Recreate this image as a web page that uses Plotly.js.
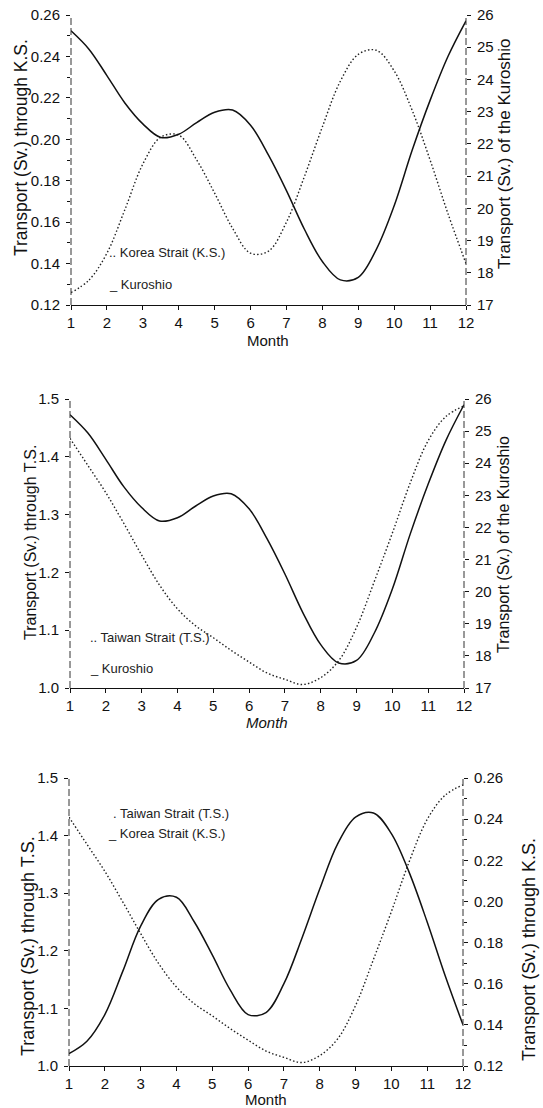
<!DOCTYPE html>
<html>
<head>
<meta charset="utf-8">
<script src="https://cdn.plot.ly/plotly-3.0.1.min.js"></script>
<style>
  html, body { margin: 0; padding: 0; background: #fff; }
  #chart { width: 543px; height: 1108px; }
</style>
</head>
<body>
<div id="chart"></div>
<script>
// ---- data (half-month resolution) ----
const months = [1, 1.5, 2, 2.5, 3, 3.5, 4, 4.5, 5, 5.5, 6, 6.5, 7, 7.5, 8, 8.5, 9, 9.5, 10, 10.5, 11, 11.5, 12];
const kuroshio = [25.51, 24.94, 24.12, 23.27, 22.62, 22.20, 22.30, 22.66, 22.98, 23.05, 22.58, 21.65, 20.55, 19.35, 18.35, 17.78, 17.86, 18.72, 20.08, 21.80, 23.35, 24.72, 25.82];
const koreaStrait = [0.126, 0.132, 0.145, 0.166, 0.188, 0.201, 0.202, 0.190, 0.174, 0.157, 0.145, 0.146, 0.160, 0.182, 0.206, 0.228, 0.241, 0.243, 0.233, 0.214, 0.190, 0.164, 0.140];
const taiwanStrait = [1.432, 1.385, 1.338, 1.285, 1.230, 1.178, 1.137, 1.108, 1.087, 1.065, 1.045, 1.026, 1.015, 1.006, 1.018, 1.047, 1.105, 1.185, 1.268, 1.355, 1.428, 1.470, 1.488];
const monthTicks = [1, 2, 3, 4, 5, 6, 7, 8, 9, 10, 11, 12];
const monthTickLabels = ['1', '2', '3', '4', '5', '6', '7', '8', '9', '10', '11', '12'];

// ---- page geometry helpers ----
const W = 543, H = 1108;
const fx = p => p / W;
const fy = p => 1 - p / H;
const FONT = 'Liberation Sans, Arial, Helvetica, sans-serif';
const INK = '#111';

const solid = { color: INK, width: 1.5, shape: 'spline', smoothing: 1 };
const dotted = { color: '#222', width: 1.4, dash: '1.5px,2.2px', shape: 'spline', smoothing: 1 };

const traces = [
  { x: months, y: koreaStrait, xaxis: 'x', yaxis: 'y', mode: 'lines', line: dotted, name: 'Korea Strait (K.S.)' },
  { x: months, y: kuroshio, xaxis: 'x', yaxis: 'y2', mode: 'lines', line: solid, name: 'Kuroshio' },
  { x: months, y: taiwanStrait, xaxis: 'x2', yaxis: 'y3', mode: 'lines', line: dotted, name: 'Taiwan Strait (T.S.)' },
  { x: months, y: kuroshio, xaxis: 'x2', yaxis: 'y4', mode: 'lines', line: solid, name: 'Kuroshio' },
  { x: months, y: taiwanStrait, xaxis: 'x3', yaxis: 'y5', mode: 'lines', line: dotted, name: 'Taiwan Strait (T.S.)' },
  { x: months, y: koreaStrait, xaxis: 'x3', yaxis: 'y6', mode: 'lines', line: solid, name: 'Korea Strait (K.S.)' }
];

const tickFont = { family: FONT, size: 15, color: INK };

function xAxis(x0, x1, anchor) {
  return {
    domain: [fx(x0), fx(x1)], anchor: anchor, range: [1, 12],
    tickmode: 'array', tickvals: monthTicks, ticktext: monthTickLabels,
    ticks: 'outside', ticklen: 4, tickwidth: 1, tickcolor: INK,
    showline: true, linecolor: INK, linewidth: 1.2,
    showgrid: false, zeroline: false, tickfont: tickFont, fixedrange: true
  };
}
function yAxis(y0, y1, anchor, range, dtick, fmt, side, overlay, minor) {
  const a = {
    range: range, dtick: dtick, tick0: range[0], tickformat: fmt,
    ticks: 'outside', ticklen: 4, tickwidth: 1, tickcolor: INK,
    showline: false, showgrid: false, zeroline: false,
    tickfont: tickFont, side: side, anchor: anchor, fixedrange: true,
    ticklabelstandoff: 3
  };
  if (overlay) a.overlaying = overlay; else a.domain = [fy(y1), fy(y0)];
  if (minor) a.minor = { dtick: minor, ticks: 'outside', ticklen: 3, tickcolor: INK, showgrid: false };
  return a;
}

function vline(xref, yref, x) {
  return { type: 'line', xref: xref + ' domain', yref: yref + ' domain', x0: x, x1: x, y0: 0, y1: 1,
           line: { color: '#333', width: 1, dash: '7px,3px' } };
}

function ann(text, x, y, opts) {
  return Object.assign({ text: text, x: fx(x), y: fy(y), xref: 'paper', yref: 'paper',
    showarrow: false, xanchor: 'left', yanchor: 'middle',
    font: { family: FONT, size: 13, color: '#222' } }, opts || {});
}
function vtitle(text, x, y, size) {
  return { text: text, x: fx(x), y: fy(y), xref: 'paper', yref: 'paper', showarrow: false,
    textangle: -90, xanchor: 'center', yanchor: 'middle',
    font: { family: FONT, size: size, color: INK } };
}
function htitle(text, x, y) {
  return { text: text, x: fx(x), y: fy(y), xref: 'paper', yref: 'paper', showarrow: false,
    xanchor: 'center', yanchor: 'middle', font: { family: FONT, size: 15, color: INK } };
}

const layout = {
  width: W, height: H,
  margin: { l: 0, r: 0, t: 0, b: 0 },
  paper_bgcolor: '#fff', plot_bgcolor: '#fff',
  showlegend: false,
  xaxis: xAxis(71, 466, 'y'),
  yaxis: yAxis(15, 305, 'x', [0.12, 0.26], 0.02, '.2f', 'left', null, 0.01),
  yaxis2: yAxis(15, 305, 'x', [17, 26], 1, 'd', 'right', 'y', null),
  xaxis2: xAxis(70, 464, 'y3'),
  yaxis3: yAxis(399, 688, 'x2', [1.0, 1.5], 0.1, '.1f', 'left', null, null),
  yaxis4: yAxis(399, 688, 'x2', [17, 26], 1, 'd', 'right', 'y3', null),
  xaxis3: xAxis(69, 463, 'y5'),
  yaxis5: yAxis(778, 1066, 'x3', [1.0, 1.5], 0.1, '.1f', 'left', null, null),
  yaxis6: yAxis(778, 1066, 'x3', [0.12, 0.26], 0.02, '.2f', 'right', 'y5', 0.01),
  shapes: [
    vline('x', 'y', 0), vline('x', 'y', 1),
    vline('x2', 'y3', 0), vline('x2', 'y3', 1),
    vline('x3', 'y5', 0), vline('x3', 'y5', 1)
  ],
  annotations: [
    // top panel
    ann('.. Korea Strait (K.S.)', 107, 252),
    ann('_ Kuroshio', 107, 284),
    vtitle('Transport (Sv.) through K.S.', 21, 148, 17.5),
    vtitle('Transport (Sv.) of the Kuroshio', 505, 154, 17),
    htitle('Month', 268, 341),
    // middle panel
    ann('.. Taiwan Strait (T.S.)', 88, 637),
    ann('_ Kuroshio', 88, 668),
    vtitle('Transport (Sv.) through T.S.', 30, 543, 16),
    vtitle('Transport (Sv.) of the Kuroshio', 503, 545, 16),
    htitle('<i>Month</i>', 267, 723),
    // bottom panel
    ann('. Taiwan Strait (T.S.)', 111, 813),
    ann('_ Korea Strait (K.S.)', 106, 833),
    vtitle('Transport (Sv.) through T.S.', 28, 946, 18),
    vtitle('Transport (Sv.) through K.S.', 529, 950, 18),
    htitle('Month', 266, 1099)
  ]
};

Plotly.newPlot('chart', traces, layout, { staticPlot: true, displayModeBar: false });
</script>
</body>
</html>
